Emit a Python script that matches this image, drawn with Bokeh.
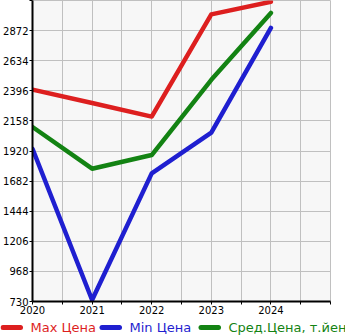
from bokeh.plotting import figure
from bokeh.models import FixedTicker, Range1d
from bokeh.layouts import column
from bokeh.core.properties import value
from bokeh.embed import file_html
from bokeh.resources import INLINE

years = [2020, 2021, 2022, 2023, 2024]
max_price = [2405, 2300, 2192, 3000, 3100]
min_price = [1938, 742, 1743, 2065, 2893]
avg_price = [2110, 1780, 1888, 2483, 3012]
y_ticks = [730, 968, 1206, 1444, 1682, 1920, 2158, 2396, 2634, 2872, 3110]
x_ticks = [2020, 2020.5, 2021, 2021.5, 2022, 2022.5, 2023, 2023.5, 2024, 2024.5, 2025]
series_names = ["Max Цена", "Min Цена", "Сред.Цена, т.йен"]
series_colors = ["#dd1f1f", "#1f1fd0", "#138313"]

FONT = "DejaVu Sans"

p = figure(width=345, height=316, output_backend="svg", toolbar_location=None,
           x_range=Range1d(2020, 2025), y_range=Range1d(730, 3110),
           min_border_left=31, min_border_right=15, min_border_top=0, min_border_bottom=15)
p.frame_align = False
p.background_fill_color = "#f7f7f7"
p.border_fill_color = "white"
p.outline_line_color = "#c0c0c0"
p.outline_line_width = 1

for vals, col in zip([max_price, min_price, avg_price], series_colors):
    p.line(years, vals, line_color=col, line_width=4.5, line_join="round", line_cap="round")

p.xaxis.ticker = FixedTicker(ticks=x_ticks)
p.xaxis.major_label_overrides = {t: (str(int(t)) if float(t).is_integer() and t < 2025 else "") for t in x_ticks}
p.yaxis.ticker = FixedTicker(ticks=y_ticks)
p.yaxis.major_label_overrides = {3110: ""}

for ax in (p.xaxis[0], p.yaxis[0]):
    ax.axis_line_color = "black"
    ax.axis_line_width = 2
    ax.major_tick_line_color = "black"
    ax.major_tick_in = 0
    ax.major_tick_out = 3
    ax.minor_tick_line_color = None
    ax.major_label_text_font = FONT
    ax.major_label_text_font_size = "10px"
    ax.major_label_text_color = "black"
    ax.major_label_standoff = 1

p.grid.grid_line_color = "#c0c0c0"
p.grid.grid_line_width = 1

# legend strip (own frame, not aligned with the chart's frame)
leg = figure(width=345, height=19, output_backend="svg", toolbar_location=None,
             x_range=Range1d(0, 345), y_range=Range1d(0, 19),
             x_axis_location=None, y_axis_location=None, min_border=0)
leg.frame_align = False
leg.grid.visible = False
leg.outline_line_color = None
leg.background_fill_color = "white"
starts = [0, 99, 198]
for s, name, col in zip(starts, series_names, series_colors):
    leg.segment(x0=[s + 2.5], y0=[8], x1=[s + 20], y1=[8], line_color=col, line_width=5, line_cap="round")
    leg.text(x=[s + 30], y=[8], text=[name], text_color=col, text_font=value(FONT),
             text_font_size="13px", text_baseline="middle", text_align="left")

layout = column(p, leg, spacing=0)
open("out.html", "w").write(file_html(layout, INLINE))
